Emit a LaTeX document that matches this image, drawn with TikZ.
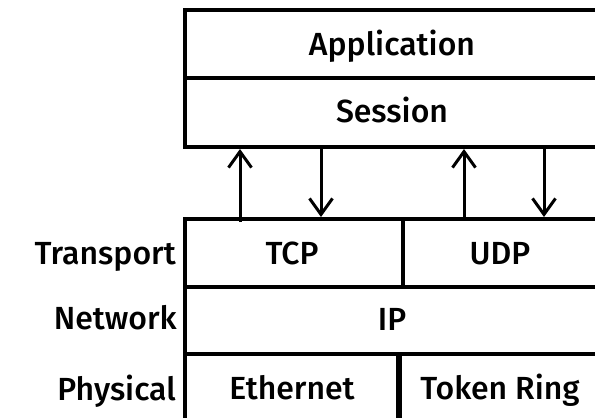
\documentclass[tikz,border=0pt]{standalone}
\usepackage{fontspec}
\setmainfont{Fira Sans}
\newfontfamily\lblfont{Fira Sans}[UprightFont=* Medium]
\usetikzlibrary{arrows.meta,calc}
\begin{document}
\begin{tikzpicture}[x=1pt,y=1pt,
  box/.style={draw, line width=4pt, rectangle, anchor=north west, inner sep=0pt},
  txt/.style={anchor=base, inner sep=0pt, font=\fontsize{32}{36}\selectfont\lblfont},
  lbl/.style={anchor=base east, inner sep=0pt, font=\fontsize{32}{36}\selectfont\lblfont},
  arr/.style={line width=3pt, -{Straight Barb[length=16pt,width=23pt,line width=3pt]}}]
\useasboundingbox (0,0) rectangle (595,-418);
\clip (0,0) rectangle (595,-418);
\node[box, minimum width=417pt, minimum height=68pt] (app) at (183,-8) {};
\node[box, minimum width=417pt, minimum height=69pt] (sess) at (183,-76) {};
\node[box, minimum width=218pt, minimum height=68pt] (tcp) at (183,-217) {};
\node[box, minimum width=199pt, minimum height=68pt] (udp) at (401,-217) {};
\node[box, minimum width=417pt, minimum height=67pt] (ip) at (183,-285) {};
\node[box, minimum width=215pt, minimum height=70pt] (eth) at (183,-352) {};
\node[box, minimum width=202pt, minimum height=70pt] (tok) at (398,-352) {};
\draw[line width=5pt] (tok.north west) -- (tok.south west);
\node[txt] (tapp) at (392,-55) {Application};
\node[txt] (tsess) at (392,-122) {Session};
\node[txt] (ttcp) at (292,-264) {TCP};
\node[txt] (tudp) at (500,-264) {UDP};
\node[txt] (tip) at (392,-330) {IP};
\node[txt] (teth) at (292,-399) {Ethernet};
\node[txt] (ttok) at (500,-399) {Token Ring};
\node[lbl] (ltr) at (176,-264) {Transport};
\node[lbl] (lnw) at (177,-329) {Network};
\node[lbl] (lph) at (176,-400) {Physical};
\coordinate (c1) at (240,0);
\coordinate (c2) at (321,0);
\coordinate (c3) at (464,0);
\coordinate (c4) at (544,0);
\draw[arr] ($(c1 |- tcp.north)+(0,-5)$) -- (c1 |- sess.south);
\draw[arr] (c2 |- sess.south) -- (c2 |- tcp.north);
\draw[arr] (c3 |- udp.north) -- (c3 |- sess.south);
\draw[arr] (c4 |- sess.south) -- (c4 |- udp.north);
\end{tikzpicture}
\end{document}
